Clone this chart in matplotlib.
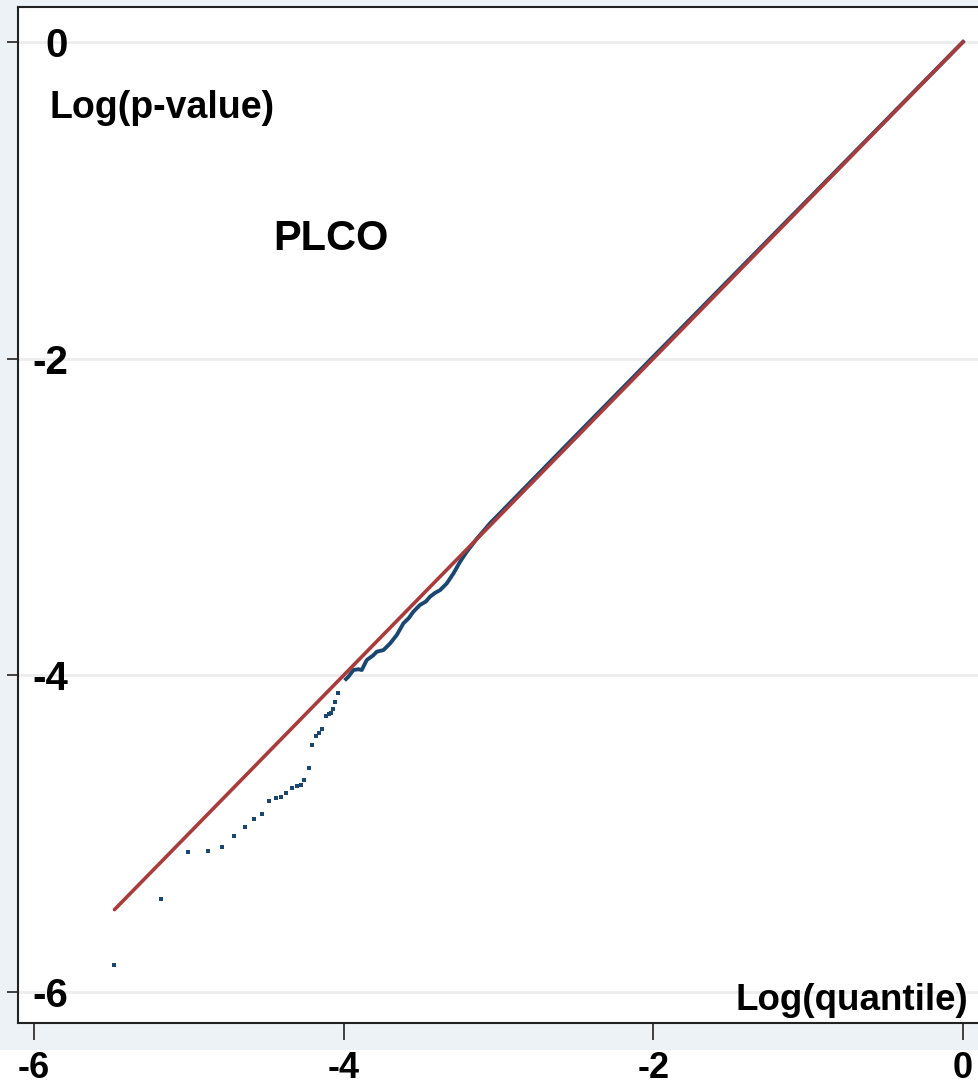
import numpy as np
import matplotlib.pyplot as plt
from matplotlib.patches import Rectangle

plt.rcParams['font.family'] = ['Liberation Sans', 'DejaVu Sans']
plt.rcParams['font.weight'] = 'bold'

tail_x = [-5.483, -5.18, -5.003, -4.878, -4.784, -4.706, -4.639, -4.577, -4.525,
          -4.48, -4.437, -4.404, -4.372, -4.335, -4.303, -4.275, -4.254, -4.224,
          -4.202, -4.178, -4.159, -4.142, -4.114, -4.096, -4.081, -4.067, -4.054, -4.034]
tail_y = [-5.83, -5.41, -5.117, -5.11, -5.083, -5.014, -4.957, -4.91, -4.878,
          -4.794, -4.774, -4.767, -4.746, -4.714, -4.70, -4.693, -4.662, -4.584,
          -4.441, -4.384, -4.363, -4.342, -4.258, -4.247, -4.241, -4.215, -4.167, -4.11]

# dense part of the observed curve
body_x = [-3.985, -3.97, -3.937, -3.905, -3.883, -3.851, -3.81, -3.786, -3.743, -3.70,
          -3.657, -3.614, -3.58, -3.55, -3.507, -3.47, -3.442, -3.41, -3.377, -3.334,
          -3.291, -3.248, -3.205, -3.14, -3.05, -3.0, -2.5, -2.0, -1.5, -1.0, -0.5, 0.0]
body_y = [-4.024, -4.01, -3.967, -3.962, -3.967, -3.904, -3.875, -3.851, -3.841, -3.799,
          -3.746, -3.672, -3.64, -3.599, -3.556, -3.535, -3.504, -3.48, -3.462, -3.42,
          -3.357, -3.283, -3.22, -3.138, -3.035, -2.986, -2.486, -1.988, -1.491, -0.994,
          -0.497, 0.0]

# expected (reference) line
ref_x = [-5.48, 0.0]
ref_y = [-5.48, 0.0]

ticks = [-6, -4, -2, 0]
navy = '#1a476f'
red = '#a83c3c'

fig = plt.figure(figsize=(9.79, 10.88), dpi=100)
fig.patch.set_facecolor('white')
fig.add_artist(Rectangle((0, 38 / 1088), 1, 1, transform=fig.transFigure,
                         facecolor='#edf2f7', edgecolor='none', zorder=-5))

ax = fig.add_axes([18 / 979, 65 / 1088, 961 / 979, 1016 / 1088])
ax.set_facecolor('white')

ax.scatter(tail_x, tail_y, s=5, marker='s', color=navy, linewidths=0, zorder=3)
ax.plot(body_x, body_y, color=navy, lw=2.8, zorder=3)
ax.plot(ref_x, ref_y, color=red, lw=2.6, solid_capstyle='round', zorder=4)

ax.set_xlim(-6.103, 0.103)
ax.set_ylim(-6.196, 0.22)

ax.set_xticks(ticks)
ax.set_xticklabels(['-6', '-4', '-2', '0'])
ax.set_yticks(ticks)
ax.set_yticklabels(['-6', '-4', '-2', '0'])
ax.yaxis.grid(True, color='#ececec', lw=2)
ax.set_axisbelow(True)

ax.tick_params(axis='x', direction='out', length=12, width=1.2, color='#222222',
               labelsize=26, pad=8)
ax.tick_params(axis='y', direction='out', length=8, width=1.2, color='#222222',
               labelsize=29, pad=-44)

for side in ['left', 'bottom', 'top']:
    ax.spines[side].set_color('#222222')
    ax.spines[side].set_linewidth(1.5)
ax.spines['right'].set_visible(False)

ax.text(-5.897, -0.48, 'Log(p-value)', fontsize=27, fontweight='bold', va='baseline')
ax.text(-4.456, -1.314, 'PLCO', fontsize=30, fontweight='bold', va='baseline')
ax.text(0.034, -6.115, 'Log(quantile)', fontsize=26.5, fontweight='bold',
        ha='right', va='baseline')

fig.savefig('out.png', dpi=100)
